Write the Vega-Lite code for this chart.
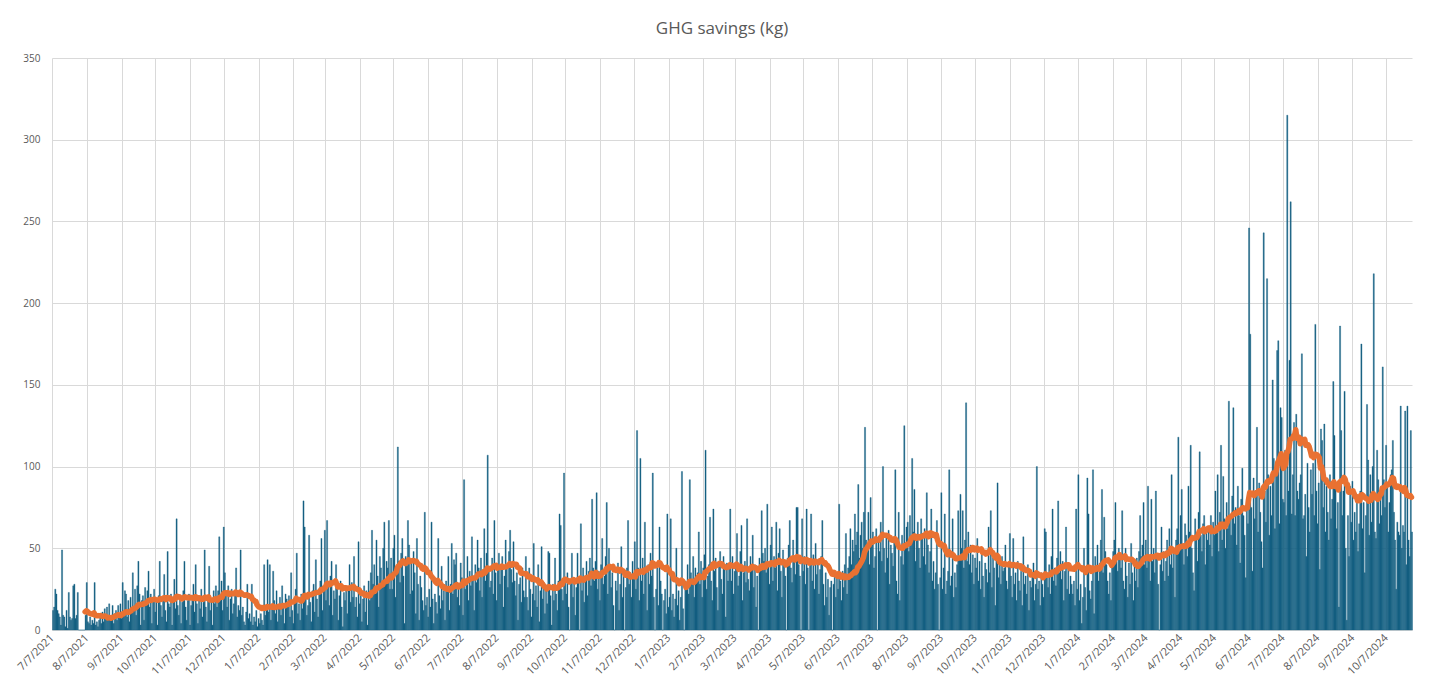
{
"$schema": "https://vega.github.io/schema/vega-lite/v6.json",
"width": 1360, "height": 572,
"autosize": {"type": "none"},
"padding": {"left": 52, "top": 58, "right": 33, "bottom": 66},
"background": "white",
"title": {"text": "GHG savings (kg)", "fontSize": 17, "font": "Open Sans", "fontWeight": "normal", "color": "#595959", "offset": 15, "anchor": "middle", "dx": -10},
"config": {"view": {"stroke": null}},
"datasets": {"ghg": [
{"d":"2021-07-07","v":12},{"d":"2021-07-08","v":14},{"d":"2021-07-09","v":25},{"d":"2021-07-10","v":22},{"d":"2021-07-11","v":12},{"d":"2021-07-12","v":10},{"d":"2021-07-13","v":8},{"d":"2021-07-14","v":3},{"d":"2021-07-15","v":49},{"d":"2021-07-16","v":9},{"d":"2021-07-17","v":8},{"d":"2021-07-18","v":2},{"d":"2021-07-19","v":12},{"d":"2021-07-20","v":1},{"d":"2021-07-21","v":23},{"d":"2021-07-22","v":8},{"d":"2021-07-23","v":6},{"d":"2021-07-24","v":7},{"d":"2021-07-25","v":27},{"d":"2021-07-26","v":28},{"d":"2021-07-27","v":7},{"d":"2021-07-28","v":9},{"d":"2021-07-29","v":23},{"d":"2021-07-30","v":0},{"d":"2021-07-31","v":0},
{"d":"2021-08-01","v":0},{"d":"2021-08-02","v":0},{"d":"2021-08-03","v":0},{"d":"2021-08-04","v":0},{"d":"2021-08-05","v":9},{"d":"2021-08-06","v":29},{"d":"2021-08-07","v":5},{"d":"2021-08-08","v":4},{"d":"2021-08-09","v":8},{"d":"2021-08-10","v":3},{"d":"2021-08-11","v":6},{"d":"2021-08-12","v":4},{"d":"2021-08-13","v":29},{"d":"2021-08-14","v":3},{"d":"2021-08-15","v":5},{"d":"2021-08-16","v":2},{"d":"2021-08-17","v":6},{"d":"2021-08-18","v":10},{"d":"2021-08-19","v":4},{"d":"2021-08-20","v":11},{"d":"2021-08-21","v":5},{"d":"2021-08-22","v":13},{"d":"2021-08-23","v":7},{"d":"2021-08-24","v":14},{"d":"2021-08-25","v":6},{"d":"2021-08-26","v":16},{"d":"2021-08-27","v":8},{"d":"2021-08-28","v":9},{"d":"2021-08-29","v":15},{"d":"2021-08-30","v":4},{"d":"2021-08-31","v":10},
{"d":"2021-09-01","v":12},{"d":"2021-09-02","v":6},{"d":"2021-09-03","v":15},{"d":"2021-09-04","v":9},{"d":"2021-09-05","v":16},{"d":"2021-09-06","v":7},{"d":"2021-09-07","v":29},{"d":"2021-09-08","v":10},{"d":"2021-09-09","v":24},{"d":"2021-09-10","v":22},{"d":"2021-09-11","v":8},{"d":"2021-09-12","v":18},{"d":"2021-09-13","v":5},{"d":"2021-09-14","v":20},{"d":"2021-09-15","v":13},{"d":"2021-09-16","v":35},{"d":"2021-09-17","v":14},{"d":"2021-09-18","v":25},{"d":"2021-09-19","v":9},{"d":"2021-09-20","v":27},{"d":"2021-09-21","v":42},{"d":"2021-09-22","v":22},{"d":"2021-09-23","v":3},{"d":"2021-09-24","v":18},{"d":"2021-09-25","v":21},{"d":"2021-09-26","v":6},{"d":"2021-09-27","v":26},{"d":"2021-09-28","v":15},{"d":"2021-09-29","v":24},{"d":"2021-09-30","v":36},
{"d":"2021-10-01","v":14},{"d":"2021-10-02","v":22},{"d":"2021-10-03","v":4},{"d":"2021-10-04","v":19},{"d":"2021-10-05","v":25},{"d":"2021-10-06","v":11},{"d":"2021-10-07","v":17},{"d":"2021-10-08","v":3},{"d":"2021-10-09","v":21},{"d":"2021-10-10","v":42},{"d":"2021-10-11","v":15},{"d":"2021-10-12","v":8},{"d":"2021-10-13","v":20},{"d":"2021-10-14","v":34},{"d":"2021-10-15","v":12},{"d":"2021-10-16","v":5},{"d":"2021-10-17","v":48},{"d":"2021-10-18","v":16},{"d":"2021-10-19","v":14},{"d":"2021-10-20","v":22},{"d":"2021-10-21","v":3},{"d":"2021-10-22","v":18},{"d":"2021-10-23","v":31},{"d":"2021-10-24","v":13},{"d":"2021-10-25","v":68},{"d":"2021-10-26","v":15},{"d":"2021-10-27","v":9},{"d":"2021-10-28","v":20},{"d":"2021-10-29","v":4},{"d":"2021-10-30","v":17},{"d":"2021-10-31","v":24},
{"d":"2021-11-01","v":42},{"d":"2021-11-02","v":14},{"d":"2021-11-03","v":6},{"d":"2021-11-04","v":18},{"d":"2021-11-05","v":22},{"d":"2021-11-06","v":3},{"d":"2021-11-07","v":15},{"d":"2021-11-08","v":19},{"d":"2021-11-09","v":28},{"d":"2021-11-10","v":11},{"d":"2021-11-11","v":40},{"d":"2021-11-12","v":16},{"d":"2021-11-13","v":4},{"d":"2021-11-14","v":20},{"d":"2021-11-15","v":13},{"d":"2021-11-16","v":25},{"d":"2021-11-17","v":8},{"d":"2021-11-18","v":17},{"d":"2021-11-19","v":49},{"d":"2021-11-20","v":14},{"d":"2021-11-21","v":5},{"d":"2021-11-22","v":21},{"d":"2021-11-23","v":39},{"d":"2021-11-24","v":12},{"d":"2021-11-25","v":18},{"d":"2021-11-26","v":3},{"d":"2021-11-27","v":24},{"d":"2021-11-28","v":16},{"d":"2021-11-29","v":27},{"d":"2021-11-30","v":14},
{"d":"2021-12-01","v":24},{"d":"2021-12-02","v":57},{"d":"2021-12-03","v":18},{"d":"2021-12-04","v":30},{"d":"2021-12-05","v":12},{"d":"2021-12-06","v":63},{"d":"2021-12-07","v":35},{"d":"2021-12-08","v":22},{"d":"2021-12-09","v":14},{"d":"2021-12-10","v":27},{"d":"2021-12-11","v":6},{"d":"2021-12-12","v":19},{"d":"2021-12-13","v":25},{"d":"2021-12-14","v":10},{"d":"2021-12-15","v":16},{"d":"2021-12-16","v":21},{"d":"2021-12-17","v":38},{"d":"2021-12-18","v":8},{"d":"2021-12-19","v":15},{"d":"2021-12-20","v":12},{"d":"2021-12-21","v":49},{"d":"2021-12-22","v":9},{"d":"2021-12-23","v":14},{"d":"2021-12-24","v":5},{"d":"2021-12-25","v":3},{"d":"2021-12-26","v":11},{"d":"2021-12-27","v":28},{"d":"2021-12-28","v":7},{"d":"2021-12-29","v":10},{"d":"2021-12-30","v":5},{"d":"2021-12-31","v":28},
{"d":"2022-01-01","v":3},{"d":"2022-01-02","v":8},{"d":"2022-01-03","v":5},{"d":"2022-01-04","v":12},{"d":"2022-01-05","v":2},{"d":"2022-01-06","v":7},{"d":"2022-01-07","v":4},{"d":"2022-01-08","v":10},{"d":"2022-01-09","v":6},{"d":"2022-01-10","v":3},{"d":"2022-01-11","v":40},{"d":"2022-01-12","v":9},{"d":"2022-01-13","v":15},{"d":"2022-01-14","v":43},{"d":"2022-01-15","v":11},{"d":"2022-01-16","v":40},{"d":"2022-01-17","v":6},{"d":"2022-01-18","v":14},{"d":"2022-01-19","v":36},{"d":"2022-01-20","v":18},{"d":"2022-01-21","v":10},{"d":"2022-01-22","v":24},{"d":"2022-01-23","v":5},{"d":"2022-01-24","v":13},{"d":"2022-01-25","v":20},{"d":"2022-01-26","v":9},{"d":"2022-01-27","v":27},{"d":"2022-01-28","v":16},{"d":"2022-01-29","v":4},{"d":"2022-01-30","v":22},{"d":"2022-01-31","v":19},
{"d":"2022-02-01","v":14},{"d":"2022-02-02","v":21},{"d":"2022-02-03","v":8},{"d":"2022-02-04","v":35},{"d":"2022-02-05","v":12},{"d":"2022-02-06","v":4},{"d":"2022-02-07","v":18},{"d":"2022-02-08","v":25},{"d":"2022-02-09","v":47},{"d":"2022-02-10","v":10},{"d":"2022-02-11","v":16},{"d":"2022-02-12","v":6},{"d":"2022-02-13","v":22},{"d":"2022-02-14","v":13},{"d":"2022-02-15","v":79},{"d":"2022-02-16","v":63},{"d":"2022-02-17","v":20},{"d":"2022-02-18","v":9},{"d":"2022-02-19","v":15},{"d":"2022-02-20","v":58},{"d":"2022-02-21","v":17},{"d":"2022-02-22","v":5},{"d":"2022-02-23","v":24},{"d":"2022-02-24","v":28},{"d":"2022-02-25","v":11},{"d":"2022-02-26","v":43},{"d":"2022-02-27","v":19},{"d":"2022-02-28","v":8},
{"d":"2022-03-01","v":22},{"d":"2022-03-02","v":30},{"d":"2022-03-03","v":56},{"d":"2022-03-04","v":12},{"d":"2022-03-05","v":25},{"d":"2022-03-06","v":61},{"d":"2022-03-07","v":18},{"d":"2022-03-08","v":67},{"d":"2022-03-09","v":28},{"d":"2022-03-10","v":15},{"d":"2022-03-11","v":33},{"d":"2022-03-12","v":42},{"d":"2022-03-13","v":9},{"d":"2022-03-14","v":24},{"d":"2022-03-15","v":19},{"d":"2022-03-16","v":40},{"d":"2022-03-17","v":26},{"d":"2022-03-18","v":6},{"d":"2022-03-19","v":21},{"d":"2022-03-20","v":30},{"d":"2022-03-21","v":14},{"d":"2022-03-22","v":2},{"d":"2022-03-23","v":23},{"d":"2022-03-24","v":18},{"d":"2022-03-25","v":27},{"d":"2022-03-26","v":10},{"d":"2022-03-27","v":24},{"d":"2022-03-28","v":40},{"d":"2022-03-29","v":17},{"d":"2022-03-30","v":29},{"d":"2022-03-31","v":20},
{"d":"2022-04-01","v":45},{"d":"2022-04-02","v":14},{"d":"2022-04-03","v":20},{"d":"2022-04-04","v":8},{"d":"2022-04-05","v":54},{"d":"2022-04-06","v":16},{"d":"2022-04-07","v":22},{"d":"2022-04-08","v":5},{"d":"2022-04-09","v":19},{"d":"2022-04-10","v":27},{"d":"2022-04-11","v":11},{"d":"2022-04-12","v":24},{"d":"2022-04-13","v":3},{"d":"2022-04-14","v":30},{"d":"2022-04-15","v":18},{"d":"2022-04-16","v":35},{"d":"2022-04-17","v":61},{"d":"2022-04-18","v":28},{"d":"2022-04-19","v":40},{"d":"2022-04-20","v":22},{"d":"2022-04-21","v":55},{"d":"2022-04-22","v":33},{"d":"2022-04-23","v":14},{"d":"2022-04-24","v":45},{"d":"2022-04-25","v":38},{"d":"2022-04-26","v":26},{"d":"2022-04-27","v":50},{"d":"2022-04-28","v":66},{"d":"2022-04-29","v":30},{"d":"2022-04-30","v":42},
{"d":"2022-05-01","v":38},{"d":"2022-05-02","v":67},{"d":"2022-05-03","v":25},{"d":"2022-05-04","v":44},{"d":"2022-05-05","v":25},{"d":"2022-05-06","v":50},{"d":"2022-05-07","v":58},{"d":"2022-05-08","v":20},{"d":"2022-05-09","v":36},{"d":"2022-05-10","v":112},{"d":"2022-05-11","v":42},{"d":"2022-05-12","v":29},{"d":"2022-05-13","v":47},{"d":"2022-05-14","v":56},{"d":"2022-05-15","v":33},{"d":"2022-05-16","v":4},{"d":"2022-05-17","v":45},{"d":"2022-05-18","v":39},{"d":"2022-05-19","v":67},{"d":"2022-05-20","v":52},{"d":"2022-05-21","v":22},{"d":"2022-05-22","v":41},{"d":"2022-05-23","v":24},{"d":"2022-05-24","v":48},{"d":"2022-05-25","v":35},{"d":"2022-05-26","v":10},{"d":"2022-05-27","v":56},{"d":"2022-05-28","v":28},{"d":"2022-05-29","v":6},{"d":"2022-05-30","v":33},{"d":"2022-05-31","v":26},
{"d":"2022-06-01","v":18},{"d":"2022-06-02","v":12},{"d":"2022-06-03","v":72},{"d":"2022-06-04","v":15},{"d":"2022-06-05","v":20},{"d":"2022-06-06","v":8},{"d":"2022-06-07","v":25},{"d":"2022-06-08","v":14},{"d":"2022-06-09","v":66},{"d":"2022-06-10","v":19},{"d":"2022-06-11","v":4},{"d":"2022-06-12","v":22},{"d":"2022-06-13","v":17},{"d":"2022-06-14","v":10},{"d":"2022-06-15","v":56},{"d":"2022-06-16","v":21},{"d":"2022-06-17","v":13},{"d":"2022-06-18","v":39},{"d":"2022-06-19","v":18},{"d":"2022-06-20","v":24},{"d":"2022-06-21","v":6},{"d":"2022-06-22","v":30},{"d":"2022-06-23","v":26},{"d":"2022-06-24","v":45},{"d":"2022-06-25","v":12},{"d":"2022-06-26","v":28},{"d":"2022-06-27","v":53},{"d":"2022-06-28","v":22},{"d":"2022-06-29","v":43},{"d":"2022-06-30","v":40},
{"d":"2022-07-01","v":47},{"d":"2022-07-02","v":20},{"d":"2022-07-03","v":28},{"d":"2022-07-04","v":15},{"d":"2022-07-05","v":41},{"d":"2022-07-06","v":32},{"d":"2022-07-07","v":9},{"d":"2022-07-08","v":92},{"d":"2022-07-09","v":25},{"d":"2022-07-10","v":30},{"d":"2022-07-11","v":45},{"d":"2022-07-12","v":18},{"d":"2022-07-13","v":36},{"d":"2022-07-14","v":27},{"d":"2022-07-15","v":57},{"d":"2022-07-16","v":33},{"d":"2022-07-17","v":12},{"d":"2022-07-18","v":40},{"d":"2022-07-19","v":29},{"d":"2022-07-20","v":55},{"d":"2022-07-21","v":38},{"d":"2022-07-22","v":24},{"d":"2022-07-23","v":44},{"d":"2022-07-24","v":20},{"d":"2022-07-25","v":35},{"d":"2022-07-26","v":62},{"d":"2022-07-27","v":30},{"d":"2022-07-28","v":47},{"d":"2022-07-29","v":107},{"d":"2022-07-30","v":38},{"d":"2022-07-31","v":26},
{"d":"2022-08-01","v":30},{"d":"2022-08-02","v":44},{"d":"2022-08-03","v":22},{"d":"2022-08-04","v":67},{"d":"2022-08-05","v":35},{"d":"2022-08-06","v":18},{"d":"2022-08-07","v":40},{"d":"2022-08-08","v":47},{"d":"2022-08-09","v":28},{"d":"2022-08-10","v":38},{"d":"2022-08-11","v":45},{"d":"2022-08-12","v":14},{"d":"2022-08-13","v":33},{"d":"2022-08-14","v":55},{"d":"2022-08-15","v":40},{"d":"2022-08-16","v":26},{"d":"2022-08-17","v":48},{"d":"2022-08-18","v":61},{"d":"2022-08-19","v":37},{"d":"2022-08-20","v":29},{"d":"2022-08-21","v":54},{"d":"2022-08-22","v":30},{"d":"2022-08-23","v":21},{"d":"2022-08-24","v":35},{"d":"2022-08-25","v":6},{"d":"2022-08-26","v":28},{"d":"2022-08-27","v":32},{"d":"2022-08-28","v":17},{"d":"2022-08-29","v":38},{"d":"2022-08-30","v":24},{"d":"2022-08-31","v":20},
{"d":"2022-09-01","v":45},{"d":"2022-09-02","v":20},{"d":"2022-09-03","v":12},{"d":"2022-09-04","v":38},{"d":"2022-09-05","v":25},{"d":"2022-09-06","v":8},{"d":"2022-09-07","v":22},{"d":"2022-09-08","v":53},{"d":"2022-09-09","v":18},{"d":"2022-09-10","v":27},{"d":"2022-09-11","v":14},{"d":"2022-09-12","v":40},{"d":"2022-09-13","v":5},{"d":"2022-09-14","v":24},{"d":"2022-09-15","v":51},{"d":"2022-09-16","v":19},{"d":"2022-09-17","v":29},{"d":"2022-09-18","v":10},{"d":"2022-09-19","v":26},{"d":"2022-09-20","v":16},{"d":"2022-09-21","v":48},{"d":"2022-09-22","v":47},{"d":"2022-09-23","v":21},{"d":"2022-09-24","v":3},{"d":"2022-09-25","v":28},{"d":"2022-09-26","v":18},{"d":"2022-09-27","v":44},{"d":"2022-09-28","v":22},{"d":"2022-09-29","v":12},{"d":"2022-09-30","v":30},
{"d":"2022-10-01","v":71},{"d":"2022-10-02","v":64},{"d":"2022-10-03","v":25},{"d":"2022-10-04","v":18},{"d":"2022-10-05","v":96},{"d":"2022-10-06","v":30},{"d":"2022-10-07","v":22},{"d":"2022-10-08","v":35},{"d":"2022-10-09","v":14},{"d":"2022-10-10","v":0},{"d":"2022-10-11","v":28},{"d":"2022-10-12","v":47},{"d":"2022-10-13","v":20},{"d":"2022-10-14","v":32},{"d":"2022-10-15","v":9},{"d":"2022-10-16","v":26},{"d":"2022-10-17","v":47},{"d":"2022-10-18","v":30},{"d":"2022-10-19","v":0},{"d":"2022-10-20","v":65},{"d":"2022-10-21","v":24},{"d":"2022-10-22","v":38},{"d":"2022-10-23","v":17},{"d":"2022-10-24","v":33},{"d":"2022-10-25","v":42},{"d":"2022-10-26","v":21},{"d":"2022-10-27","v":36},{"d":"2022-10-28","v":44},{"d":"2022-10-29","v":27},{"d":"2022-10-30","v":80},{"d":"2022-10-31","v":38},
{"d":"2022-11-01","v":30},{"d":"2022-11-02","v":42},{"d":"2022-11-03","v":84},{"d":"2022-11-04","v":25},{"d":"2022-11-05","v":36},{"d":"2022-11-06","v":18},{"d":"2022-11-07","v":40},{"d":"2022-11-08","v":56},{"d":"2022-11-09","v":28},{"d":"2022-11-10","v":33},{"d":"2022-11-11","v":45},{"d":"2022-11-12","v":78},{"d":"2022-11-13","v":22},{"d":"2022-11-14","v":50},{"d":"2022-11-15","v":38},{"d":"2022-11-16","v":26},{"d":"2022-11-17","v":35},{"d":"2022-11-18","v":15},{"d":"2022-11-19","v":0},{"d":"2022-11-20","v":30},{"d":"2022-11-21","v":24},{"d":"2022-11-22","v":41},{"d":"2022-11-23","v":12},{"d":"2022-11-24","v":28},{"d":"2022-11-25","v":51},{"d":"2022-11-26","v":20},{"d":"2022-11-27","v":33},{"d":"2022-11-28","v":0},{"d":"2022-11-29","v":26},{"d":"2022-11-30","v":38},
{"d":"2022-12-01","v":67},{"d":"2022-12-02","v":28},{"d":"2022-12-03","v":35},{"d":"2022-12-04","v":20},{"d":"2022-12-05","v":42},{"d":"2022-12-06","v":31},{"d":"2022-12-07","v":54},{"d":"2022-12-08","v":25},{"d":"2022-12-09","v":122},{"d":"2022-12-10","v":38},{"d":"2022-12-11","v":18},{"d":"2022-12-12","v":105},{"d":"2022-12-13","v":30},{"d":"2022-12-14","v":44},{"d":"2022-12-15","v":22},{"d":"2022-12-16","v":66},{"d":"2022-12-17","v":35},{"d":"2022-12-18","v":12},{"d":"2022-12-19","v":40},{"d":"2022-12-20","v":28},{"d":"2022-12-21","v":47},{"d":"2022-12-22","v":33},{"d":"2022-12-23","v":96},{"d":"2022-12-24","v":20},{"d":"2022-12-25","v":0},{"d":"2022-12-26","v":25},{"d":"2022-12-27","v":38},{"d":"2022-12-28","v":15},{"d":"2022-12-29","v":63},{"d":"2022-12-30","v":30},{"d":"2022-12-31","v":22},
{"d":"2023-01-01","v":0},{"d":"2023-01-02","v":18},{"d":"2023-01-03","v":25},{"d":"2023-01-04","v":10},{"d":"2023-01-05","v":71},{"d":"2023-01-06","v":14},{"d":"2023-01-07","v":20},{"d":"2023-01-08","v":68},{"d":"2023-01-09","v":12},{"d":"2023-01-10","v":22},{"d":"2023-01-11","v":8},{"d":"2023-01-12","v":19},{"d":"2023-01-13","v":50},{"d":"2023-01-14","v":15},{"d":"2023-01-15","v":24},{"d":"2023-01-16","v":6},{"d":"2023-01-17","v":20},{"d":"2023-01-18","v":97},{"d":"2023-01-19","v":13},{"d":"2023-01-20","v":0},{"d":"2023-01-21","v":30},{"d":"2023-01-22","v":26},{"d":"2023-01-23","v":40},{"d":"2023-01-24","v":22},{"d":"2023-01-25","v":92},{"d":"2023-01-26","v":35},{"d":"2023-01-27","v":28},{"d":"2023-01-28","v":45},{"d":"2023-01-29","v":20},{"d":"2023-01-30","v":38},{"d":"2023-01-31","v":33},
{"d":"2023-02-01","v":35},{"d":"2023-02-02","v":60},{"d":"2023-02-03","v":28},{"d":"2023-02-04","v":42},{"d":"2023-02-05","v":20},{"d":"2023-02-06","v":38},{"d":"2023-02-07","v":46},{"d":"2023-02-08","v":110},{"d":"2023-02-09","v":25},{"d":"2023-02-10","v":33},{"d":"2023-02-11","v":40},{"d":"2023-02-12","v":69},{"d":"2023-02-13","v":30},{"d":"2023-02-14","v":18},{"d":"2023-02-15","v":74},{"d":"2023-02-16","v":36},{"d":"2023-02-17","v":44},{"d":"2023-02-18","v":26},{"d":"2023-02-19","v":12},{"d":"2023-02-20","v":39},{"d":"2023-02-21","v":48},{"d":"2023-02-22","v":31},{"d":"2023-02-23","v":22},{"d":"2023-02-24","v":45},{"d":"2023-02-25","v":37},{"d":"2023-02-26","v":8},{"d":"2023-02-27","v":41},{"d":"2023-02-28","v":30},
{"d":"2023-03-01","v":38},{"d":"2023-03-02","v":74},{"d":"2023-03-03","v":30},{"d":"2023-03-04","v":45},{"d":"2023-03-05","v":22},{"d":"2023-03-06","v":36},{"d":"2023-03-07","v":41},{"d":"2023-03-08","v":59},{"d":"2023-03-09","v":27},{"d":"2023-03-10","v":33},{"d":"2023-03-11","v":48},{"d":"2023-03-12","v":64},{"d":"2023-03-13","v":18},{"d":"2023-03-14","v":35},{"d":"2023-03-15","v":42},{"d":"2023-03-16","v":29},{"d":"2023-03-17","v":68},{"d":"2023-03-18","v":31},{"d":"2023-03-19","v":24},{"d":"2023-03-20","v":45},{"d":"2023-03-21","v":37},{"d":"2023-03-22","v":58},{"d":"2023-03-23","v":26},{"d":"2023-03-24","v":40},{"d":"2023-03-25","v":14},{"d":"2023-03-26","v":33},{"d":"2023-03-27","v":0},{"d":"2023-03-28","v":44},{"d":"2023-03-29","v":38},{"d":"2023-03-30","v":73},{"d":"2023-03-31","v":47},
{"d":"2023-04-01","v":42},{"d":"2023-04-02","v":50},{"d":"2023-04-03","v":35},{"d":"2023-04-04","v":77},{"d":"2023-04-05","v":40},{"d":"2023-04-06","v":28},{"d":"2023-04-07","v":52},{"d":"2023-04-08","v":63},{"d":"2023-04-09","v":30},{"d":"2023-04-10","v":45},{"d":"2023-04-11","v":38},{"d":"2023-04-12","v":66},{"d":"2023-04-13","v":24},{"d":"2023-04-14","v":47},{"d":"2023-04-15","v":62},{"d":"2023-04-16","v":36},{"d":"2023-04-17","v":20},{"d":"2023-04-18","v":49},{"d":"2023-04-19","v":41},{"d":"2023-04-20","v":33},{"d":"2023-04-21","v":0},{"d":"2023-04-22","v":44},{"d":"2023-04-23","v":52},{"d":"2023-04-24","v":67},{"d":"2023-04-25","v":38},{"d":"2023-04-26","v":29},{"d":"2023-04-27","v":55},{"d":"2023-04-28","v":42},{"d":"2023-04-29","v":34},{"d":"2023-04-30","v":75},
{"d":"2023-05-01","v":75},{"d":"2023-05-02","v":40},{"d":"2023-05-03","v":33},{"d":"2023-05-04","v":0},{"d":"2023-05-05","v":68},{"d":"2023-05-06","v":36},{"d":"2023-05-07","v":45},{"d":"2023-05-08","v":28},{"d":"2023-05-09","v":74},{"d":"2023-05-10","v":38},{"d":"2023-05-11","v":0},{"d":"2023-05-12","v":42},{"d":"2023-05-13","v":71},{"d":"2023-05-14","v":30},{"d":"2023-05-15","v":46},{"d":"2023-05-16","v":25},{"d":"2023-05-17","v":53},{"d":"2023-05-18","v":34},{"d":"2023-05-19","v":40},{"d":"2023-05-20","v":22},{"d":"2023-05-21","v":37},{"d":"2023-05-22","v":45},{"d":"2023-05-23","v":67},{"d":"2023-05-24","v":28},{"d":"2023-05-25","v":15},{"d":"2023-05-26","v":35},{"d":"2023-05-27","v":20},{"d":"2023-05-28","v":31},{"d":"2023-05-29","v":9},{"d":"2023-05-30","v":26},{"d":"2023-05-31","v":30},
{"d":"2023-06-01","v":0},{"d":"2023-06-02","v":28},{"d":"2023-06-03","v":35},{"d":"2023-06-04","v":20},{"d":"2023-06-05","v":32},{"d":"2023-06-06","v":25},{"d":"2023-06-07","v":77},{"d":"2023-06-08","v":30},{"d":"2023-06-09","v":18},{"d":"2023-06-10","v":36},{"d":"2023-06-11","v":26},{"d":"2023-06-12","v":40},{"d":"2023-06-13","v":59},{"d":"2023-06-14","v":22},{"d":"2023-06-15","v":38},{"d":"2023-06-16","v":45},{"d":"2023-06-17","v":62},{"d":"2023-06-18","v":40},{"d":"2023-06-19","v":55},{"d":"2023-06-20","v":48},{"d":"2023-06-21","v":71},{"d":"2023-06-22","v":52},{"d":"2023-06-23","v":60},{"d":"2023-06-24","v":89},{"d":"2023-06-25","v":44},{"d":"2023-06-26","v":58},{"d":"2023-06-27","v":66},{"d":"2023-06-28","v":50},{"d":"2023-06-29","v":72},{"d":"2023-06-30","v":124},
{"d":"2023-07-01","v":55},{"d":"2023-07-02","v":48},{"d":"2023-07-03","v":72},{"d":"2023-07-04","v":40},{"d":"2023-07-05","v":81},{"d":"2023-07-06","v":52},{"d":"2023-07-07","v":60},{"d":"2023-07-08","v":38},{"d":"2023-07-09","v":45},{"d":"2023-07-10","v":62},{"d":"2023-07-11","v":0},{"d":"2023-07-12","v":55},{"d":"2023-07-13","v":48},{"d":"2023-07-14","v":66},{"d":"2023-07-15","v":42},{"d":"2023-07-16","v":100},{"d":"2023-07-17","v":50},{"d":"2023-07-18","v":35},{"d":"2023-07-19","v":58},{"d":"2023-07-20","v":44},{"d":"2023-07-21","v":61},{"d":"2023-07-22","v":28},{"d":"2023-07-23","v":52},{"d":"2023-07-24","v":47},{"d":"2023-07-25","v":39},{"d":"2023-07-26","v":55},{"d":"2023-07-27","v":98},{"d":"2023-07-28","v":30},{"d":"2023-07-29","v":22},{"d":"2023-07-30","v":72},{"d":"2023-07-31","v":18},
{"d":"2023-08-01","v":45},{"d":"2023-08-02","v":58},{"d":"2023-08-03","v":40},{"d":"2023-08-04","v":125},{"d":"2023-08-05","v":52},{"d":"2023-08-06","v":63},{"d":"2023-08-07","v":66},{"d":"2023-08-08","v":48},{"d":"2023-08-09","v":70},{"d":"2023-08-10","v":55},{"d":"2023-08-11","v":105},{"d":"2023-08-12","v":60},{"d":"2023-08-13","v":86},{"d":"2023-08-14","v":42},{"d":"2023-08-15","v":58},{"d":"2023-08-16","v":66},{"d":"2023-08-17","v":50},{"d":"2023-08-18","v":38},{"d":"2023-08-19","v":68},{"d":"2023-08-20","v":57},{"d":"2023-08-21","v":45},{"d":"2023-08-22","v":62},{"d":"2023-08-23","v":40},{"d":"2023-08-24","v":84},{"d":"2023-08-25","v":52},{"d":"2023-08-26","v":35},{"d":"2023-08-27","v":48},{"d":"2023-08-28","v":74},{"d":"2023-08-29","v":30},{"d":"2023-08-30","v":42},{"d":"2023-08-31","v":25},
{"d":"2023-09-01","v":35},{"d":"2023-09-02","v":67},{"d":"2023-09-03","v":28},{"d":"2023-09-04","v":0},{"d":"2023-09-05","v":32},{"d":"2023-09-06","v":84},{"d":"2023-09-07","v":25},{"d":"2023-09-08","v":38},{"d":"2023-09-09","v":71},{"d":"2023-09-10","v":22},{"d":"2023-09-11","v":30},{"d":"2023-09-12","v":36},{"d":"2023-09-13","v":98},{"d":"2023-09-14","v":27},{"d":"2023-09-15","v":33},{"d":"2023-09-16","v":68},{"d":"2023-09-17","v":20},{"d":"2023-09-18","v":35},{"d":"2023-09-19","v":26},{"d":"2023-09-20","v":40},{"d":"2023-09-21","v":73},{"d":"2023-09-22","v":45},{"d":"2023-09-23","v":83},{"d":"2023-09-24","v":50},{"d":"2023-09-25","v":73},{"d":"2023-09-26","v":38},{"d":"2023-09-27","v":55},{"d":"2023-09-28","v":139},{"d":"2023-09-29","v":42},{"d":"2023-09-30","v":60},
{"d":"2023-10-01","v":40},{"d":"2023-10-02","v":52},{"d":"2023-10-03","v":35},{"d":"2023-10-04","v":46},{"d":"2023-10-05","v":28},{"d":"2023-10-06","v":44},{"d":"2023-10-07","v":38},{"d":"2023-10-08","v":56},{"d":"2023-10-09","v":30},{"d":"2023-10-10","v":42},{"d":"2023-10-11","v":25},{"d":"2023-10-12","v":48},{"d":"2023-10-13","v":33},{"d":"2023-10-14","v":20},{"d":"2023-10-15","v":41},{"d":"2023-10-16","v":37},{"d":"2023-10-17","v":29},{"d":"2023-10-18","v":63},{"d":"2023-10-19","v":35},{"d":"2023-10-20","v":73},{"d":"2023-10-21","v":26},{"d":"2023-10-22","v":44},{"d":"2023-10-23","v":38},{"d":"2023-10-24","v":15},{"d":"2023-10-25","v":47},{"d":"2023-10-26","v":90},{"d":"2023-10-27","v":32},{"d":"2023-10-28","v":40},{"d":"2023-10-29","v":28},{"d":"2023-10-30","v":45},{"d":"2023-10-31","v":36},
{"d":"2023-11-01","v":38},{"d":"2023-11-02","v":52},{"d":"2023-11-03","v":30},{"d":"2023-11-04","v":25},{"d":"2023-11-05","v":40},{"d":"2023-11-06","v":59},{"d":"2023-11-07","v":33},{"d":"2023-11-08","v":20},{"d":"2023-11-09","v":56},{"d":"2023-11-10","v":28},{"d":"2023-11-11","v":35},{"d":"2023-11-12","v":18},{"d":"2023-11-13","v":42},{"d":"2023-11-14","v":30},{"d":"2023-11-15","v":24},{"d":"2023-11-16","v":36},{"d":"2023-11-17","v":15},{"d":"2023-11-18","v":57},{"d":"2023-11-19","v":28},{"d":"2023-11-20","v":33},{"d":"2023-11-21","v":22},{"d":"2023-11-22","v":40},{"d":"2023-11-23","v":12},{"d":"2023-11-24","v":30},{"d":"2023-11-25","v":26},{"d":"2023-11-26","v":35},{"d":"2023-11-27","v":41},{"d":"2023-11-28","v":18},{"d":"2023-11-29","v":28},{"d":"2023-11-30","v":100},
{"d":"2023-12-01","v":25},{"d":"2023-12-02","v":30},{"d":"2023-12-03","v":15},{"d":"2023-12-04","v":35},{"d":"2023-12-05","v":28},{"d":"2023-12-06","v":20},{"d":"2023-12-07","v":62},{"d":"2023-12-08","v":60},{"d":"2023-12-09","v":33},{"d":"2023-12-10","v":26},{"d":"2023-12-11","v":40},{"d":"2023-12-12","v":22},{"d":"2023-12-13","v":45},{"d":"2023-12-14","v":74},{"d":"2023-12-15","v":30},{"d":"2023-12-16","v":38},{"d":"2023-12-17","v":27},{"d":"2023-12-18","v":44},{"d":"2023-12-19","v":79},{"d":"2023-12-20","v":35},{"d":"2023-12-21","v":48},{"d":"2023-12-22","v":31},{"d":"2023-12-23","v":42},{"d":"2023-12-24","v":18},{"d":"2023-12-25","v":36},{"d":"2023-12-26","v":63},{"d":"2023-12-27","v":25},{"d":"2023-12-28","v":40},{"d":"2023-12-29","v":22},{"d":"2023-12-30","v":33},{"d":"2023-12-31","v":28},
{"d":"2024-01-01","v":22},{"d":"2024-01-02","v":30},{"d":"2024-01-03","v":15},{"d":"2024-01-04","v":74},{"d":"2024-01-05","v":25},{"d":"2024-01-06","v":95},{"d":"2024-01-07","v":18},{"d":"2024-01-08","v":28},{"d":"2024-01-09","v":4},{"d":"2024-01-10","v":20},{"d":"2024-01-11","v":50},{"d":"2024-01-12","v":26},{"d":"2024-01-13","v":12},{"d":"2024-01-14","v":93},{"d":"2024-01-15","v":71},{"d":"2024-01-16","v":24},{"d":"2024-01-17","v":19},{"d":"2024-01-18","v":30},{"d":"2024-01-19","v":98},{"d":"2024-01-20","v":10},{"d":"2024-01-21","v":45},{"d":"2024-01-22","v":38},{"d":"2024-01-23","v":52},{"d":"2024-01-24","v":30},{"d":"2024-01-25","v":41},{"d":"2024-01-26","v":55},{"d":"2024-01-27","v":86},{"d":"2024-01-28","v":35},{"d":"2024-01-29","v":69},{"d":"2024-01-30","v":48},{"d":"2024-01-31","v":40},
{"d":"2024-02-01","v":30},{"d":"2024-02-02","v":22},{"d":"2024-02-03","v":35},{"d":"2024-02-04","v":18},{"d":"2024-02-05","v":40},{"d":"2024-02-06","v":48},{"d":"2024-02-07","v":55},{"d":"2024-02-08","v":78},{"d":"2024-02-09","v":42},{"d":"2024-02-10","v":36},{"d":"2024-02-11","v":50},{"d":"2024-02-12","v":45},{"d":"2024-02-13","v":38},{"d":"2024-02-14","v":73},{"d":"2024-02-15","v":30},{"d":"2024-02-16","v":25},{"d":"2024-02-17","v":50},{"d":"2024-02-18","v":33},{"d":"2024-02-19","v":20},{"d":"2024-02-20","v":41},{"d":"2024-02-21","v":28},{"d":"2024-02-22","v":53},{"d":"2024-02-23","v":35},{"d":"2024-02-24","v":18},{"d":"2024-02-25","v":39},{"d":"2024-02-26","v":30},{"d":"2024-02-27","v":44},{"d":"2024-02-28","v":26},{"d":"2024-02-29","v":48},
{"d":"2024-03-01","v":70},{"d":"2024-03-02","v":45},{"d":"2024-03-03","v":52},{"d":"2024-03-04","v":78},{"d":"2024-03-05","v":40},{"d":"2024-03-06","v":55},{"d":"2024-03-07","v":38},{"d":"2024-03-08","v":88},{"d":"2024-03-09","v":46},{"d":"2024-03-10","v":30},{"d":"2024-03-11","v":80},{"d":"2024-03-12","v":42},{"d":"2024-03-13","v":50},{"d":"2024-03-14","v":35},{"d":"2024-03-15","v":85},{"d":"2024-03-16","v":44},{"d":"2024-03-17","v":28},{"d":"2024-03-18","v":0},{"d":"2024-03-19","v":40},{"d":"2024-03-20","v":63},{"d":"2024-03-21","v":36},{"d":"2024-03-22","v":48},{"d":"2024-03-23","v":30},{"d":"2024-03-24","v":42},{"d":"2024-03-25","v":55},{"d":"2024-03-26","v":33},{"d":"2024-03-27","v":62},{"d":"2024-03-28","v":40},{"d":"2024-03-29","v":95},{"d":"2024-03-30","v":38},{"d":"2024-03-31","v":50},
{"d":"2024-04-01","v":20},{"d":"2024-04-02","v":55},{"d":"2024-04-03","v":62},{"d":"2024-04-04","v":118},{"d":"2024-04-05","v":48},{"d":"2024-04-06","v":70},{"d":"2024-04-07","v":86},{"d":"2024-04-08","v":52},{"d":"2024-04-09","v":40},{"d":"2024-04-10","v":65},{"d":"2024-04-11","v":58},{"d":"2024-04-12","v":45},{"d":"2024-04-13","v":88},{"d":"2024-04-14","v":60},{"d":"2024-04-15","v":113},{"d":"2024-04-16","v":50},{"d":"2024-04-17","v":35},{"d":"2024-04-18","v":24},{"d":"2024-04-19","v":68},{"d":"2024-04-20","v":55},{"d":"2024-04-21","v":42},{"d":"2024-04-22","v":72},{"d":"2024-04-23","v":109},{"d":"2024-04-24","v":58},{"d":"2024-04-25","v":48},{"d":"2024-04-26","v":65},{"d":"2024-04-27","v":70},{"d":"2024-04-28","v":40},{"d":"2024-04-29","v":62},{"d":"2024-04-30","v":55},
{"d":"2024-05-01","v":60},{"d":"2024-05-02","v":52},{"d":"2024-05-03","v":70},{"d":"2024-05-04","v":45},{"d":"2024-05-05","v":66},{"d":"2024-05-06","v":58},{"d":"2024-05-07","v":85},{"d":"2024-05-08","v":62},{"d":"2024-05-09","v":95},{"d":"2024-05-10","v":48},{"d":"2024-05-11","v":72},{"d":"2024-05-12","v":113},{"d":"2024-05-13","v":55},{"d":"2024-05-14","v":94},{"d":"2024-05-15","v":68},{"d":"2024-05-16","v":50},{"d":"2024-05-17","v":78},{"d":"2024-05-18","v":62},{"d":"2024-05-19","v":140},{"d":"2024-05-20","v":70},{"d":"2024-05-21","v":58},{"d":"2024-05-22","v":82},{"d":"2024-05-23","v":136},{"d":"2024-05-24","v":65},{"d":"2024-05-25","v":75},{"d":"2024-05-26","v":52},{"d":"2024-05-27","v":88},{"d":"2024-05-28","v":70},{"d":"2024-05-29","v":41},{"d":"2024-05-30","v":80},{"d":"2024-05-31","v":99},
{"d":"2024-06-01","v":70},{"d":"2024-06-02","v":58},{"d":"2024-06-03","v":32},{"d":"2024-06-04","v":80},{"d":"2024-06-05","v":65},{"d":"2024-06-06","v":246},{"d":"2024-06-07","v":181},{"d":"2024-06-08","v":75},{"d":"2024-06-09","v":36},{"d":"2024-06-10","v":93},{"d":"2024-06-11","v":68},{"d":"2024-06-12","v":82},{"d":"2024-06-13","v":124},{"d":"2024-06-14","v":60},{"d":"2024-06-15","v":90},{"d":"2024-06-16","v":72},{"d":"2024-06-17","v":54},{"d":"2024-06-18","v":38},{"d":"2024-06-19","v":243},{"d":"2024-06-20","v":85},{"d":"2024-06-21","v":66},{"d":"2024-06-22","v":215},{"d":"2024-06-23","v":95},{"d":"2024-06-24","v":58},{"d":"2024-06-25","v":88},{"d":"2024-06-26","v":70},{"d":"2024-06-27","v":153},{"d":"2024-06-28","v":105},{"d":"2024-06-29","v":62},{"d":"2024-06-30","v":98},
{"d":"2024-07-01","v":171},{"d":"2024-07-02","v":177},{"d":"2024-07-03","v":65},{"d":"2024-07-04","v":136},{"d":"2024-07-05","v":130},{"d":"2024-07-06","v":80},{"d":"2024-07-07","v":78},{"d":"2024-07-08","v":110},{"d":"2024-07-09","v":70},{"d":"2024-07-10","v":315},{"d":"2024-07-11","v":85},{"d":"2024-07-12","v":165},{"d":"2024-07-13","v":262},{"d":"2024-07-14","v":71},{"d":"2024-07-15","v":95},{"d":"2024-07-16","v":127},{"d":"2024-07-17","v":70},{"d":"2024-07-18","v":132},{"d":"2024-07-19","v":85},{"d":"2024-07-20","v":80},{"d":"2024-07-21","v":90},{"d":"2024-07-22","v":95},{"d":"2024-07-23","v":169},{"d":"2024-07-24","v":68},{"d":"2024-07-25","v":70},{"d":"2024-07-26","v":83},{"d":"2024-07-27","v":45},{"d":"2024-07-28","v":102},{"d":"2024-07-29","v":75},{"d":"2024-07-30","v":60},{"d":"2024-07-31","v":98},
{"d":"2024-08-01","v":83},{"d":"2024-08-02","v":102},{"d":"2024-08-03","v":70},{"d":"2024-08-04","v":187},{"d":"2024-08-05","v":85},{"d":"2024-08-06","v":65},{"d":"2024-08-07","v":90},{"d":"2024-08-08","v":37},{"d":"2024-08-09","v":123},{"d":"2024-08-10","v":116},{"d":"2024-08-11","v":75},{"d":"2024-08-12","v":126},{"d":"2024-08-13","v":60},{"d":"2024-08-14","v":88},{"d":"2024-08-15","v":72},{"d":"2024-08-16","v":55},{"d":"2024-08-17","v":95},{"d":"2024-08-18","v":68},{"d":"2024-08-19","v":80},{"d":"2024-08-20","v":152},{"d":"2024-08-21","v":119},{"d":"2024-08-22","v":90},{"d":"2024-08-23","v":62},{"d":"2024-08-24","v":78},{"d":"2024-08-25","v":14},{"d":"2024-08-26","v":186},{"d":"2024-08-27","v":122},{"d":"2024-08-28","v":70},{"d":"2024-08-29","v":85},{"d":"2024-08-30","v":146},{"d":"2024-08-31","v":50},
{"d":"2024-09-01","v":6},{"d":"2024-09-02","v":70},{"d":"2024-09-03","v":45},{"d":"2024-09-04","v":88},{"d":"2024-09-05","v":66},{"d":"2024-09-06","v":91},{"d":"2024-09-07","v":55},{"d":"2024-09-08","v":72},{"d":"2024-09-09","v":60},{"d":"2024-09-10","v":80},{"d":"2024-09-11","v":48},{"d":"2024-09-12","v":65},{"d":"2024-09-13","v":85},{"d":"2024-09-14","v":175},{"d":"2024-09-15","v":62},{"d":"2024-09-16","v":78},{"d":"2024-09-17","v":35},{"d":"2024-09-18","v":70},{"d":"2024-09-19","v":138},{"d":"2024-09-20","v":104},{"d":"2024-09-21","v":58},{"d":"2024-09-22","v":95},{"d":"2024-09-23","v":66},{"d":"2024-09-24","v":100},{"d":"2024-09-25","v":218},{"d":"2024-09-26","v":60},{"d":"2024-09-27","v":56},{"d":"2024-09-28","v":110},{"d":"2024-09-29","v":92},{"d":"2024-09-30","v":65},
{"d":"2024-10-01","v":85},{"d":"2024-10-02","v":70},{"d":"2024-10-03","v":161},{"d":"2024-10-04","v":92},{"d":"2024-10-05","v":75},{"d":"2024-10-06","v":113},{"d":"2024-10-07","v":88},{"d":"2024-10-08","v":60},{"d":"2024-10-09","v":78},{"d":"2024-10-10","v":95},{"d":"2024-10-11","v":98},{"d":"2024-10-12","v":116},{"d":"2024-10-13","v":72},{"d":"2024-10-14","v":55},{"d":"2024-10-15","v":25},{"d":"2024-10-16","v":66},{"d":"2024-10-17","v":60},{"d":"2024-10-18","v":58},{"d":"2024-10-19","v":137},{"d":"2024-10-20","v":50},{"d":"2024-10-21","v":64},{"d":"2024-10-22","v":60},{"d":"2024-10-23","v":134},{"d":"2024-10-24","v":40},{"d":"2024-10-25","v":137},{"d":"2024-10-26","v":55},{"d":"2024-10-27","v":45},{"d":"2024-10-28","v":122},{"d":"2024-10-29","v":60}
]},
"data": {"name": "ghg"},
"layer": [
{
"mark": {"type": "bar", "color": "#156082", "binSpacing": 0, "stroke": "#156082", "strokeWidth": 0.35},
"encoding": {
"x": {"field": "d", "type": "temporal", "timeUnit": "utcyearmonthdate",
"scale": {"type": "utc", "nice": false, "domain": [{"year": 2021, "month": 7, "date": 7, "utc": true}, {"year": 2024, "month": 10, "date": 30, "utc": true}]},
"axis": {"title": null, "format": "%-m/%-d/%Y", "tickCount": 100, "labelAngle": -45, "labelAlign": "right", "labelBaseline": "middle", "labelFontSize": 11, "labelFont": "Open Sans", "labelColor": "#595959", "labelPadding": 6, "labelOverlap": false, "labelBound": false, "labelFlush": false, "ticks": false, "grid": true, "gridColor": "#d9d9d9", "gridWidth": 1, "domainColor": "#d9d9d9",
"values": [
{"year":2021,"month":7,"date":7,"utc":true},{"year":2021,"month":8,"date":7,"utc":true},{"year":2021,"month":9,"date":7,"utc":true},{"year":2021,"month":10,"date":7,"utc":true},{"year":2021,"month":11,"date":7,"utc":true},{"year":2021,"month":12,"date":7,"utc":true},
{"year":2022,"month":1,"date":7,"utc":true},{"year":2022,"month":2,"date":7,"utc":true},{"year":2022,"month":3,"date":7,"utc":true},{"year":2022,"month":4,"date":7,"utc":true},{"year":2022,"month":5,"date":7,"utc":true},{"year":2022,"month":6,"date":7,"utc":true},{"year":2022,"month":7,"date":7,"utc":true},{"year":2022,"month":8,"date":7,"utc":true},{"year":2022,"month":9,"date":7,"utc":true},{"year":2022,"month":10,"date":7,"utc":true},{"year":2022,"month":11,"date":7,"utc":true},{"year":2022,"month":12,"date":7,"utc":true},
{"year":2023,"month":1,"date":7,"utc":true},{"year":2023,"month":2,"date":7,"utc":true},{"year":2023,"month":3,"date":7,"utc":true},{"year":2023,"month":4,"date":7,"utc":true},{"year":2023,"month":5,"date":7,"utc":true},{"year":2023,"month":6,"date":7,"utc":true},{"year":2023,"month":7,"date":7,"utc":true},{"year":2023,"month":8,"date":7,"utc":true},{"year":2023,"month":9,"date":7,"utc":true},{"year":2023,"month":10,"date":7,"utc":true},{"year":2023,"month":11,"date":7,"utc":true},{"year":2023,"month":12,"date":7,"utc":true},
{"year":2024,"month":1,"date":7,"utc":true},{"year":2024,"month":2,"date":7,"utc":true},{"year":2024,"month":3,"date":7,"utc":true},{"year":2024,"month":4,"date":7,"utc":true},{"year":2024,"month":5,"date":7,"utc":true},{"year":2024,"month":6,"date":7,"utc":true},{"year":2024,"month":7,"date":7,"utc":true},{"year":2024,"month":8,"date":7,"utc":true},{"year":2024,"month":9,"date":7,"utc":true},{"year":2024,"month":10,"date":7,"utc":true}
]}},
"y": {"field": "v", "type": "quantitative", "scale": {"domain": [0, 350], "nice": false},
"axis": {"title": null, "values": [0, 50, 100, 150, 200, 250, 300, 350], "labelFontSize": 10, "labelFont": "Open Sans", "labelColor": "#595959", "labelPadding": 12, "domain": false, "ticks": false, "grid": true, "gridColor": "#d9d9d9", "gridWidth": 1}}
}
},
{
"transform": [
{"window": [{"op": "mean", "field": "v", "as": "ma"}, {"op": "count", "as": "n"}], "frame": [-29, 0], "sort": [{"field": "d", "order": "ascending"}]},
{"filter": "datum.n >= 30"}
],
"mark": {"type": "line", "color": "#E97132", "strokeWidth": 5.5, "strokeCap": "round", "strokeJoin": "round"},
"encoding": {
"x": {"field": "d", "type": "temporal", "timeUnit": "utcyearmonthdate", "bandPosition": 0.5},
"y": {"field": "ma", "type": "quantitative"}
}
}
]
}
